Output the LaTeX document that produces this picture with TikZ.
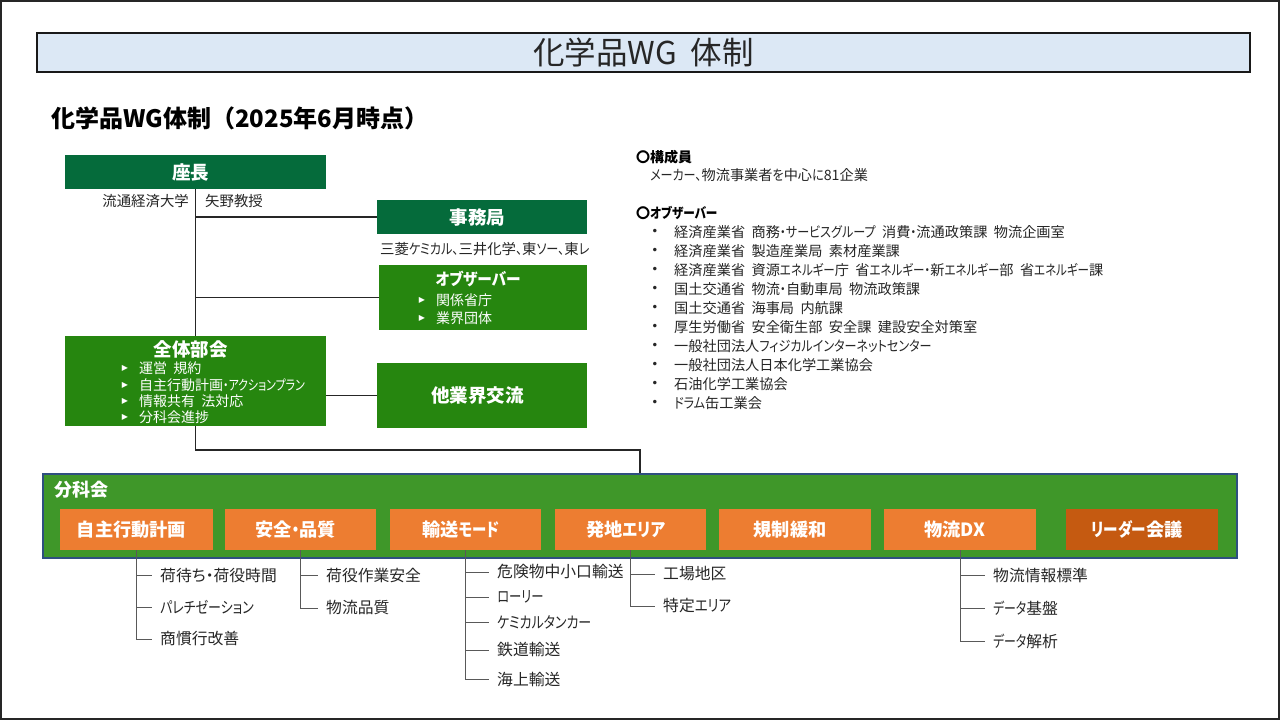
\documentclass[tikz,border=0pt]{standalone}
\usepackage{fontspec}
\setmainfont{Noto Sans CJK JP}[RawFeature=+palt,WordSpace=2]
\newfontfamily\fullfont{Noto Sans CJK JP}
\newfontfamily\symfont{DejaVu Sans}
\newcommand{\kn}[2][.82]{{\addfontfeatures{FakeStretch=#1}#2}}
\definecolor{dkgreen}{HTML}{056B3B}
\definecolor{midgreen}{HTML}{26860F}
\definecolor{wggreen}{HTML}{3F9729}
\definecolor{wgedge}{HTML}{2F4F7F}
\definecolor{orangebox}{HTML}{ED7D31}
\definecolor{darkorange}{HTML}{C55A11}
\definecolor{titlefill}{HTML}{DCE8F5}
\definecolor{ink}{HTML}{262626}
\tikzset{
 x=1pt,y=-1pt,
 hdr/.style={anchor=center,inner sep=0pt,text=white,font=\fontsize{18.5}{20}\selectfont\bfseries},
 wht/.style={anchor=west,inner sep=0pt,text=white,font=\fontsize{14}{15}\selectfont},
 tri/.style={anchor=center,inner sep=0pt,text=white,font=\fontsize{8}{9}\selectfont\symfont},
 lbl/.style={anchor=west,inner sep=0pt,text=ink,font=\fontsize{14.2}{16}\selectfont},
 sublbl/.style={anchor=west,inner sep=0pt,text=ink,font=\fontsize{15.8}{17}\selectfont},
 dot/.style={anchor=center,inner sep=0pt,text=ink,font=\fontsize{12}{14}\selectfont\symfont},
 heavy/.style={anchor=west,inner sep=0pt,text=black,font=\fontsize{14}{16}\selectfont\bfseries},
 conn/.style={draw=black!85,line width=1.3pt},
 sub/.style={draw=black!65,line width=0.9pt,shorten >=8pt},
 org/.style={fill=orangebox,draw=none,inner sep=0pt,text=white,font=\fontsize{18.2}{20}\selectfont\bfseries},
 grn/.style={inner sep=0pt,text=white,font=\fontsize{18.5}{20}\selectfont\bfseries},
}
\begin{document}
\begin{tikzpicture}
\useasboundingbox (0,0) rectangle (1280,720);
\fill[white] (0,0) rectangle (1280,720);
\draw[line width=2pt,draw=black!85] (1,1) rectangle (1279,719);
% title
\node[draw=black!90,line width=2pt,fill=titlefill,minimum width=1213pt,minimum height=39pt,inner sep=0pt,text=ink,font=\fontsize{31.5}{36}\selectfont] (title) at (643.5,52) {化学品WG 体制};
\node[anchor=west,inner sep=0pt,text=black,font=\fontsize{24}{28}\selectfont\bfseries\fullfont] (subtitle) at (51,118) {化学品WG体制（2025年6月時点）};
% boxes
\node[grn,fill=dkgreen,minimum width=261pt,minimum height=34pt] (chair) at (195.5,172) {座長\kern10pt};
\node[grn,fill=dkgreen,minimum width=210pt,minimum height=34pt] (sec) at (482,217) {事務局\kern9pt};
\node[fill=midgreen,minimum width=208pt,minimum height=65pt,inner sep=0pt] (obs) at (483,297.5) {};
\node[fill=midgreen,minimum width=261pt,minimum height=90pt,inner sep=0pt] (all) at (195.5,381) {};
\node[grn,fill=midgreen,minimum width=210pt,minimum height=65pt] (other) at (482,395.5) {他業界交流\kern9pt};
\node[fill=wggreen,draw=wgedge,line width=1.2pt,minimum width=1194pt,minimum height=84pt,inner sep=0pt] (wg) at (640,516) {};
% connectors top
\coordinate (jct1) at (chair.south |- sec.west);
\coordinate (jct2) at (chair.south |- obs.west);
\coordinate (bend) at (wg.north |- 0,450);
\draw[conn] (chair.south) -- (all.north);
\draw[conn] (jct1) -- (sec.west);
\draw[conn] (jct2) -- (obs.west);
\draw[conn] (all.east |- other.west) -- (other.west);
\draw[conn] (all.south) |- (bend) -- (wg.north);
% chair text
\node[lbl,anchor=east,font=\fontsize{14.4}{16}\selectfont] (chairorg) at (189,201) {流通経済大学};
\node[lbl,font=\fontsize{14.4}{16}\selectfont] (chairname) at (205,201) {矢野教授};
\node[lbl,font=\fontsize{14.4}{16}\selectfont] (secmem) at (380,249) {三菱\kn[.84]{ケミカル、}三井化学\kn[.84]{、}東\kn[.84]{ソー、}東\kn[.84]{レ}};
% observer box
\node[hdr,font=\fontsize{16.5}{20}\selectfont\bfseries] (obst) at (478,279) {\kn[.89]{オブザーバー}};
\node[tri] (obt1) at (422,300) {▶};
\node[wht] (obl1) at (436,300) {関係省庁};
\node[tri] (obt2) at (422,318) {▶};
\node[wht] (obl2) at (436,318) {業界団体};
% plenary box
\node[hdr] (allt) at (190.5,349) {全体部会};
\node[tri] (a0) at (125,368) {▶};
\node[tri] (a1) at (125,385) {▶};
\node[tri] (a2) at (125,401) {▶};
\node[tri] (a3) at (125,417.5) {▶};
\node[wht] (al0) at (139,368) {運営 規約};
\node[wht] (al1) at (139,385) {自主行動計画\kn[.78]{・アクションプラン}};
\node[wht] (al2) at (139,401) {情報共有 法対応};
\node[wht] (al3) at (139,417) {分科会進捗};
% right list
\node[heavy] (h1) at (636,157) {〇構成員};
\node[lbl] (m1) at (650,175.5) {\kn[.85]{メーカー、}物流事業者\kn[.85]{を}中心\kn[.85]{に}81企業};
\node[heavy] (h2) at (636,213) {〇\kn[.83]{オブザーバー}};
\foreach \n/\y/\t in {1/232/{経済産業省 商務\kn[.85]{・サービスグループ} 消費\kn[.85]{・}流通政策課 物流企画室},
 2/251/{経済産業省 製造産業局 素材産業課},
 3/270/{経済産業省 資源\kn[.81]{エネルギー}庁 省\kn[.81]{エネルギー・}新\kn[.81]{エネルギー}部 省\kn[.81]{エネルギー}課},
 4/289/{国土交通省 物流\kn[.85]{・}自動車局 物流政策課},
 5/308/{国土交通省 海事局 内航課},
 6/327/{厚生労働省 安全衛生部 安全課 建設安全対策室},
 7/346/{一般社団法人\kn[.85]{フィジカルインターネットセンター}},
 8/365/{一般社団法人日本化学工業協会},
 9/384/{石油化学工業協会},
 10/403/{\kn[.85]{ドラム}缶工業会}}{
 \node[dot] (b\n) at (655,\y) {•};
 \node[lbl] (o\n) at (674,\y) {\t};
}
% working groups
\node[anchor=west,inner sep=0pt,text=white,font=\fontsize{18}{20}\selectfont\bfseries] (wgt) at (54,490) {分科会};
\foreach \n/\cx/\w/\t in {A/136.5/153/{自主行動計画},B/300.5/151/{安全\kn{・}品質},C/465.5/151/{輸送\kn[.79]{モード}},D/630.5/151/{発地\kn[.85]{エリア}},E/795/152/{規制緩和},F/960/152/{物流DX}}{
 \node[org,minimum width=\w pt,minimum height=41pt] (\n) at (\cx,529.5) {\t\kern10pt};
}
\node[org,fill=darkorange,minimum width=152pt,minimum height=41pt] (G) at (1142,529.5) {\kn[.8]{リーダー}会議\kern10pt};
% sublists
\foreach \n/\b/\x/\y/\t in {a1/A/160/575/{荷待ち・荷役時間},a2/A/160/607/{\kn{パレチゼーション}},a3/A/160/639/{商慣行改善},
 b1/B/326/575/{荷役作業安全},b2/B/326/608/{物流品質},
 c1/C/497/572/{危険物中小口輸送},c2/C/497/597/{\kn[.78]{ローリー}},c3/C/497/622/{\kn{ケミカルタンカー}},c4/C/497/650/{鉄道輸送},c5/C/497/679/{海上輸送},
 d1/D/663/574/{工場地区},d2/D/663/606/{特定\kn[.85]{エリア}},
 f1/F/993/575/{物流情報標準},f2/F/993/608/{\kn[.75]{データ}基盤},f3/F/993/641/{\kn[.75]{データ}解析}}{
 \node[sublbl] (t\n) at (\x,\y) {\t};
 \draw[sub] (\b.south) |- (t\n.west);
}
\end{tikzpicture}
\end{document}
